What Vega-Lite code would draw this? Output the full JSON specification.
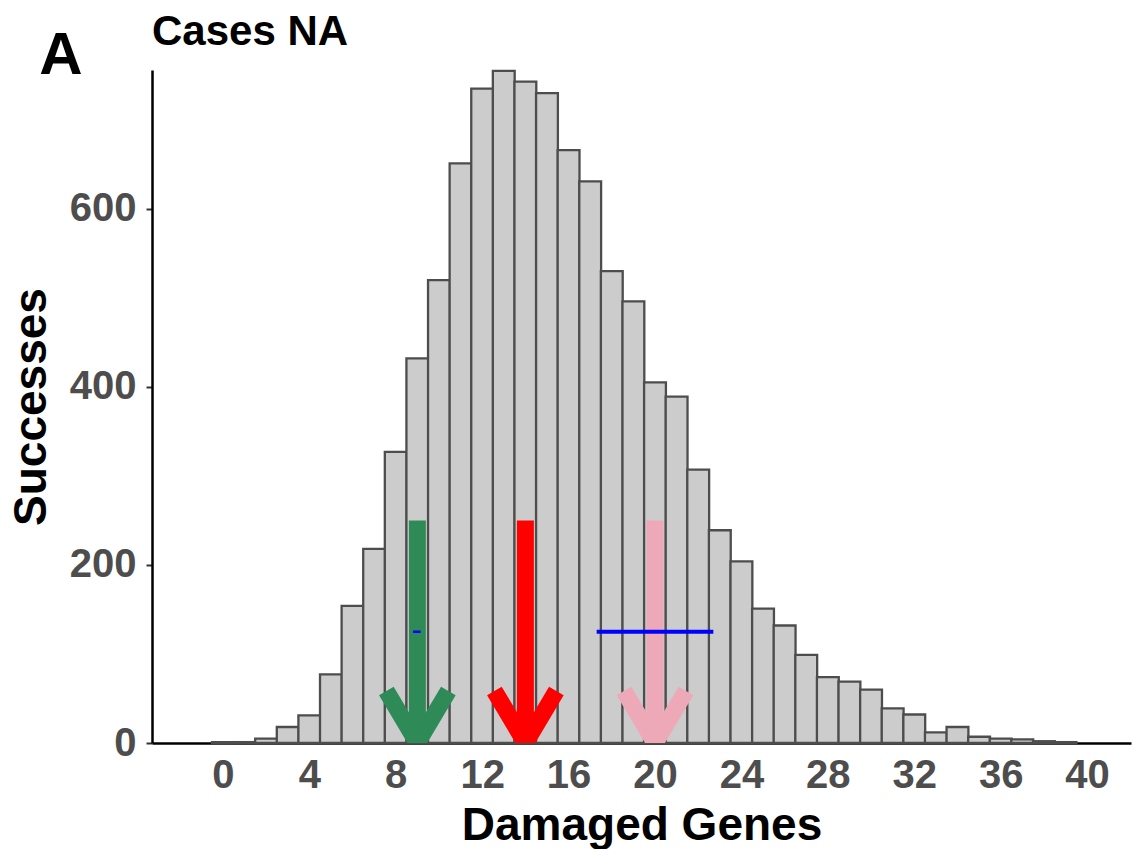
{
  "$schema": "https://vega.github.io/schema/vega-lite/v6.json",
  "width": 979,
  "height": 673,
  "autosize": "none",
  "padding": {"left": 152, "top": 70, "right": 2, "bottom": 106},
  "background": "white",
  "title": {"text": "Cases NA", "anchor": "start", "frame": "group", "fontSize": 42, "fontWeight": "bold", "font": "Liberation Sans", "color": "black", "offset": 14, "dy": 42},
  "datasets": {
    "hist": [
      {"g": 0, "n": 1}, {"g": 1, "n": 1}, {"g": 2, "n": 5}, {"g": 3, "n": 18}, {"g": 4, "n": 31},
      {"g": 5, "n": 77}, {"g": 6, "n": 154}, {"g": 7, "n": 218}, {"g": 8, "n": 327}, {"g": 9, "n": 432},
      {"g": 10, "n": 520}, {"g": 11, "n": 651}, {"g": 12, "n": 735}, {"g": 13, "n": 755}, {"g": 14, "n": 743},
      {"g": 15, "n": 730}, {"g": 16, "n": 666}, {"g": 17, "n": 631}, {"g": 18, "n": 530}, {"g": 19, "n": 496},
      {"g": 20, "n": 405}, {"g": 21, "n": 389}, {"g": 22, "n": 307}, {"g": 23, "n": 239}, {"g": 24, "n": 204},
      {"g": 25, "n": 151}, {"g": 26, "n": 132}, {"g": 27, "n": 99}, {"g": 28, "n": 74}, {"g": 29, "n": 69},
      {"g": 30, "n": 60}, {"g": 31, "n": 39}, {"g": 32, "n": 32}, {"g": 33, "n": 12}, {"g": 34, "n": 18},
      {"g": 35, "n": 7}, {"g": 36, "n": 5}, {"g": 37, "n": 4}, {"g": 38, "n": 2}, {"g": 39, "n": 1}
    ],
    "arrows": [
      {"arrow": "green", "x": 9, "y": 250, "yend": 0},
      {"arrow": "red", "x": 14, "y": 250, "yend": 0},
      {"arrow": "pink", "x": 20, "y": 250, "yend": 0}
    ],
    "ci": [
      {"group": "green", "lo": 8.8, "hi": 9.15, "y": 125},
      {"group": "pink", "lo": 17.3, "hi": 22.7, "y": 125}
    ],
    "panel": [{"label": "A"}]
  },
  "layer": [
    {
      "data": {"name": "hist"},
      "mark": {"type": "bar", "size": 21.83, "fill": "#CCCCCC", "stroke": "#4D4D4D", "strokeWidth": 2.3},
      "encoding": {
        "x": {"field": "g", "type": "quantitative", "title": "Damaged Genes",
              "scale": {"domain": [-3.05, 41.8], "nice": false, "zero": false},
              "axis": {"values": [0, 4, 8, 12, 16, 20, 24, 28, 32, 36, 40]}},
        "y": {"field": "n", "type": "quantitative", "title": "Successes",
              "scale": {"domain": [0, 756], "nice": false},
              "axis": {"values": [0, 200, 400, 600]}}
      }
    },
    {
      "data": {"name": "arrows"},
      "mark": {"type": "rule", "strokeWidth": 17, "strokeCap": "butt", "clip": true},
      "encoding": {
        "x": {"field": "x", "type": "quantitative"},
        "y": {"field": "y", "type": "quantitative"},
        "y2": {"field": "yend"},
        "color": {"field": "arrow", "type": "nominal", "legend": null,
                  "scale": {"domain": ["green", "red", "pink"], "range": ["#2E8B57", "#FF0000", "#EEA9B8"]}}
      }
    },
    {
      "data": {"name": "arrows"},
      "mark": {"type": "point", "shape": "M-0.596,-1L0,0L0.596,-1", "size": 10816, "filled": false, "strokeWidth": 17, "strokeJoin": "miter", "strokeCap": "butt", "opacity": 1, "clip": true},
      "encoding": {
        "x": {"field": "x", "type": "quantitative"},
        "y": {"field": "yend", "type": "quantitative"},
        "color": {"field": "arrow", "type": "nominal", "legend": null,
                  "scale": {"domain": ["green", "red", "pink"], "range": ["#2E8B57", "#FF0000", "#EEA9B8"]}}
      }
    },
    {
      "data": {"name": "ci"},
      "mark": {"type": "rule", "color": "#0000FF", "strokeCap": "butt"},
      "encoding": {
        "x": {"field": "lo", "type": "quantitative"},
        "x2": {"field": "hi"},
        "y": {"field": "y", "type": "quantitative"},
        "strokeWidth": {"field": "group", "type": "nominal", "legend": null,
                        "scale": {"domain": ["green", "pink"], "range": [2.5, 4]}}
      }
    },
    {
      "data": {"name": "panel"},
      "mark": {"type": "text", "font": "Liberation Sans", "fontSize": 60, "fontWeight": "bold", "color": "black", "align": "center", "baseline": "alphabetic"},
      "encoding": {
        "text": {"field": "label"},
        "x": {"datum": -7.5, "type": "quantitative"},
        "y": {"datum": 752, "type": "quantitative"}
      }
    }
  ],
  "config": {
    "view": {"stroke": null},
    "axis": {
      "grid": false,
      "labelFont": "Liberation Sans", "labelFontSize": 40, "labelFontWeight": "bold", "labelColor": "#4D4D4D",
      "titleFont": "Liberation Sans", "titleFontSize": 46, "titleFontWeight": "bold", "titleColor": "black",
      "domainColor": "black", "domainWidth": 2.5
    },
    "axisX": {"ticks": false, "tickSize": 0, "labelPadding": 12, "titlePadding": 8, "labelFlush": false, "labelOverlap": false},
    "axisY": {"tickSize": 6, "tickColor": "#333333", "tickWidth": 2, "labelPadding": 10, "titlePadding": 14, "labelOverlap": false}
  }
}
